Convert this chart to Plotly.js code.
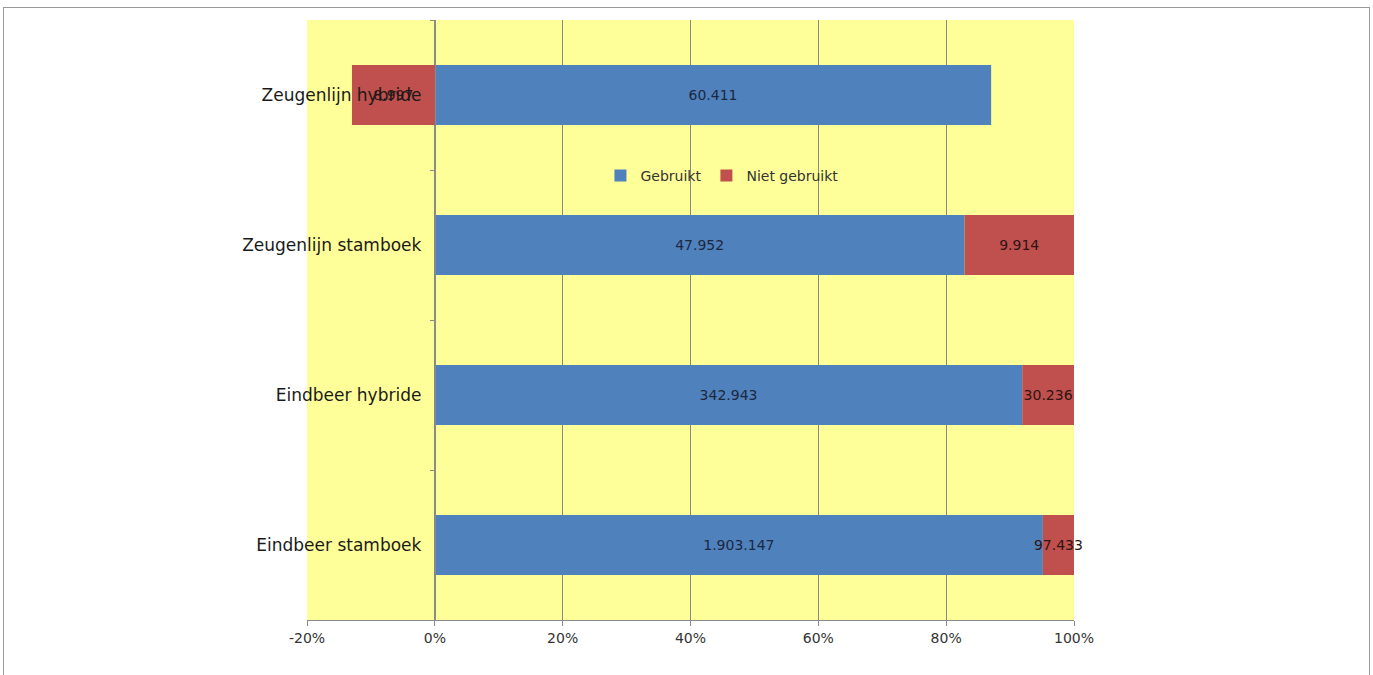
<!DOCTYPE html>
<html>
<head>
<meta charset="utf-8">
<script src="https://cdn.plot.ly/plotly-3.0.1.min.js"></script>
<style>
  html, body { margin: 0; padding: 0; background: #ffffff; }
  #chart { width: 1373px; height: 675px; }
  #frame { position: absolute; left: 3px; top: 7px; width: 1365px; height: 700px;
           border: 1px solid #9a9a9a; pointer-events: none; }
</style>
</head>
<body>
<div id="chart"></div>
<div id="frame"></div>
<script>
// Categories, bottom to top
const categories = ["Eindbeer stamboek", "Eindbeer hybride", "Zeugenlijn stamboek", "Zeugenlijn hybride"];
// Counts (used / not used)
const gebruikt = [1903147, 342943, 47952, 60411];
const nietGebruikt = [97433, 30236, 9914, 8997];
// Side on which the "Niet gebruikt" segment is drawn (as in the original chart)
const nietGebruiktSide = [1, 1, 1, -1];
const xTickValues = [-20, 0, 20, 40, 60, 80, 100];
const xTickLabels = ["-20%", "0%", "20%", "40%", "60%", "80%", "100%"];

function fmtNL(n) {
  return String(n).replace(/\B(?=(\d{3})+(?!\d))/g, ".");
}

const totals = gebruikt.map((g, i) => g + nietGebruikt[i]);
const pctGebruikt = gebruikt.map((g, i) => g / totals[i] * 100);
const pctNiet = nietGebruikt.map((n, i) => nietGebruiktSide[i] * n / totals[i] * 100);

const font = "'DejaVu Sans', 'Open Sans', sans-serif";

const traces = [
  {
    type: "bar", orientation: "h", name: "Gebruikt",
    y: categories, x: pctGebruikt,
    text: gebruikt.map(fmtNL),
    textposition: "inside", insidetextanchor: "middle", textangle: 0,
    constraintext: "none", cliponaxis: false,
    textfont: { family: font, size: 14, color: "#1c2840" },
    marker: { color: "#4f81bd" },
    width: 0.4, hoverinfo: "skip"
  },
  {
    type: "bar", orientation: "h", name: "Niet gebruikt",
    y: categories, x: pctNiet,
    text: nietGebruikt.map(fmtNL),
    textposition: "inside", insidetextanchor: "middle", textangle: 0,
    constraintext: "none", cliponaxis: false,
    textfont: { family: font, size: 14, color: "#2e1414" },
    marker: { color: "#c0504d" },
    width: 0.4, hoverinfo: "skip"
  }
];

const layout = {
  width: 1373, height: 675,
  margin: { l: 307, r: 299, t: 20, b: 55, pad: 0 },
  paper_bgcolor: "#ffffff",
  plot_bgcolor: "#ffff99",
  barmode: "relative",
  showlegend: true,
  legend: {
    orientation: "h", x: 0.541, y: 0.74, xanchor: "center", yanchor: "middle",
    bgcolor: "rgba(0,0,0,0)", font: { family: font, size: 14, color: "#333" },
    itemwidth: 30, traceorder: "normal"
  },
  xaxis: {
    range: [-20, 100], tickvals: xTickValues, ticktext: xTickLabels,
    showgrid: true, gridcolor: "#8a8a8a", gridwidth: 1,
    zeroline: false, showline: true, linecolor: "#8a8a8a",
    ticks: "outside", ticklen: 5, tickcolor: "#8a8a8a",
    tickfont: { family: font, size: 14, color: "#333" },
    fixedrange: true
  },
  yaxis: {
    type: "category", categoryorder: "array", categoryarray: categories,
    range: [-0.5, 3.5],
    anchor: "free", position: 20 / 120, side: "left",
    showline: true, linecolor: "#8a8a8a",
    ticks: "outside", tickson: "boundaries", ticklen: 5, tickcolor: "#8a8a8a",
    ticklabelstandoff: 10,
    showgrid: false, zeroline: false,
    tickfont: { family: font, size: 17, color: "#1a1a1a" },
    fixedrange: true
  }
};

Plotly.newPlot("chart", traces, layout, { displayModeBar: false, staticPlot: true });
</script>
</body>
</html>
